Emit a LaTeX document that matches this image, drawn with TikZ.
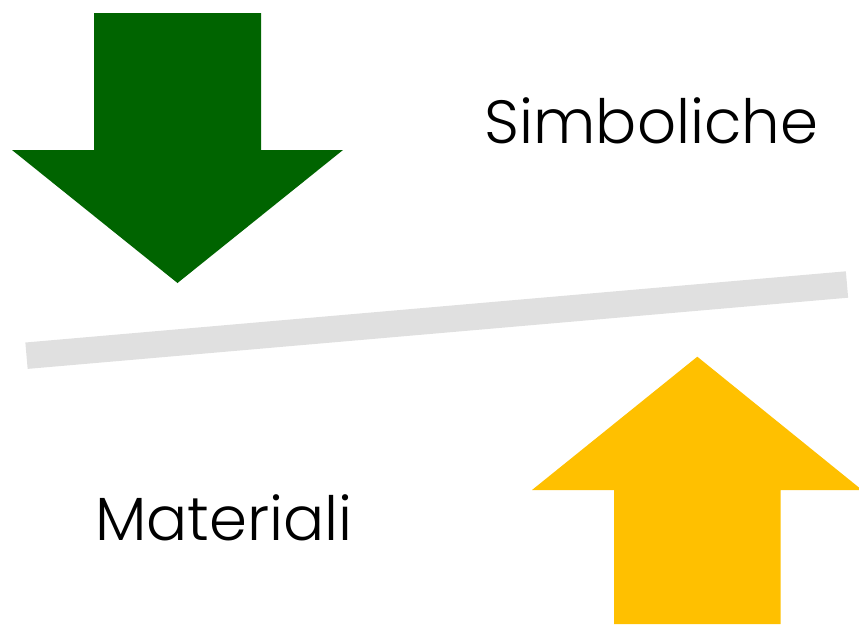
\documentclass[tikz,border=0pt]{standalone}
\usepackage{fontspec}
\setmainfont{Poppins Light}
\definecolor{arrgreen}{RGB}{0,100,0}
\definecolor{arryellow}{RGB}{255,192,0}
\definecolor{bargray}{RGB}{224,224,224}
\begin{document}
\begin{tikzpicture}[x=1pt,y=-1pt,
  lbl/.style={font=\fontsize{61}{63}\selectfont, inner sep=0pt, anchor=base}]
\useasboundingbox (0,0) rectangle (859,624);
% green arrow (down)
\fill[arrgreen] (94,13) -- (261,13) -- (261,150) -- (343,150) -- (177.5,283) -- (12,150) -- (94,150) -- cycle;
% gray bar
\draw[bargray, line width=26.5pt] (26.5,355.7) -- (847,284.5);
% yellow arrow (up)
\fill[arryellow] (614,624) -- (614,490) -- (532,490) -- (697.3,356.7) -- (862,490) -- (780.7,490) -- (780.7,624) -- cycle;
\node[lbl] (simb) at (651.5,143) {Simboliche};
\node[lbl] (mat) at (224,540) {Materiali};
\end{tikzpicture}
\end{document}
